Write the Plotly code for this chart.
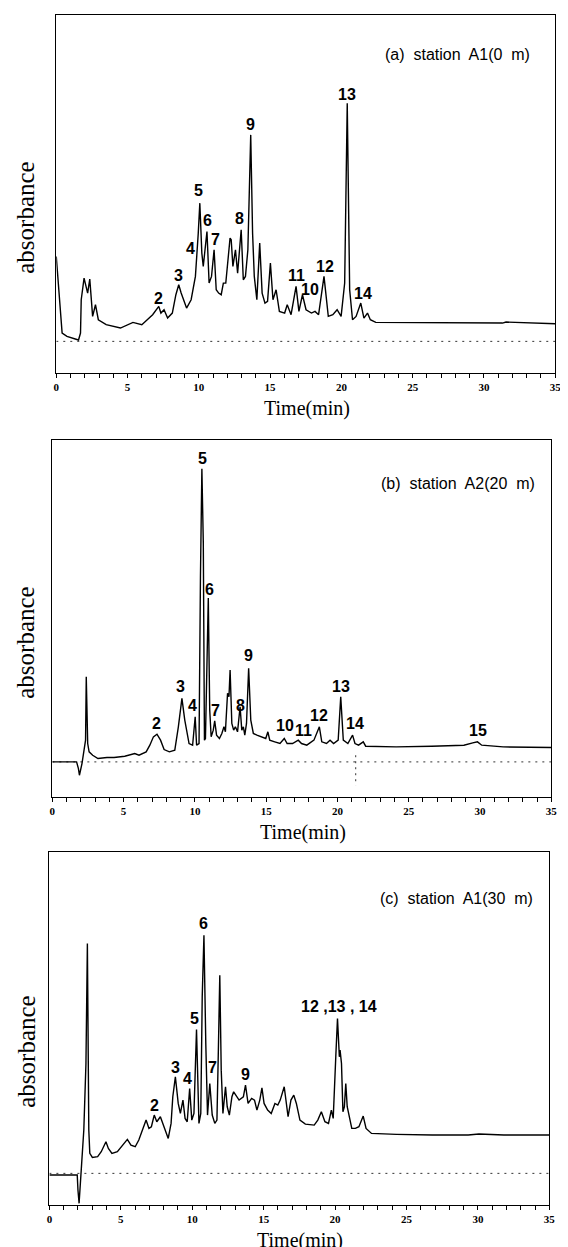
import plotly.graph_objects as go

# ---------------- data ----------------
# Panel (a) station A1 (0 m)
t_a = [0.00, 0.41, 0.75, 1.56, 1.70, 1.75, 1.95, 2.20, 2.35, 2.55, 2.75, 2.95, 3.50, 4.50, 5.38, 6.00,
       6.76, 7.19, 7.34, 7.56, 7.81, 8.14, 8.39, 8.59, 8.76, 9.14, 9.46, 9.76, 9.96, 10.07, 10.21,
       10.31, 10.57, 10.72, 10.89, 11.07, 11.22, 11.39, 11.57, 11.72, 11.89, 12.02, 12.19, 12.27,
       12.39, 12.57, 12.72, 12.97, 13.12, 13.27, 13.44, 13.64, 13.77, 13.89, 14.07, 14.27, 14.44,
       14.64, 14.82, 15.02, 15.20, 15.42, 15.65, 16.02, 16.20, 16.47, 16.82, 17.02, 17.27, 17.52,
       17.90, 18.15, 18.40, 18.78, 19.08, 19.40, 19.70, 19.98, 20.23, 20.41, 20.58, 20.78, 21.03,
       21.36, 21.58, 21.83, 22.03, 22.41, 23.79, 26.29, 31.30, 31.55, 35.00]
v_a = [35.0, 12.0, 11.0, 9.9, 12.0, 22.0, 28.5, 24.0, 28.2, 17.0, 20.5, 16.0, 14.5, 13.5, 15.2, 14.5,
       17.5, 20.0, 18.0, 19.0, 16.5, 18.0, 23.5, 26.5, 24.0, 19.5, 22.0, 29.0, 42.0, 51.0, 36.0,
       32.0, 42.5, 27.0, 29.0, 37.0, 25.0, 24.0, 23.5, 27.0, 27.0, 32.0, 40.5, 40.0,
       32.0, 37.0, 30.0, 43.0, 28.0, 29.0, 37.0, 71.5, 42.0, 29.0, 22.0, 39.0, 24.0,
       21.0, 21.5, 33.0, 22.0, 25.0, 18.5, 18.0, 20.5, 17.5, 26.0, 18.5, 23.5, 19.0,
       18.0, 18.5, 17.5, 29.0, 17.0, 17.5, 19.0, 17.0, 27.0, 81.0, 25.0, 16.0, 17.0,
       21.0, 16.5, 18.0, 16.0, 15.2, 15.2, 15.0, 15.0, 15.3, 14.8]

# Panel (b) station A2 (20 m)
t_b = [0.00, 1.70, 1.83, 1.90, 2.08, 2.23, 2.33, 2.38, 2.48, 2.58, 2.83, 3.20, 3.83, 4.33, 5.08, 5.78,
       6.08, 6.58, 6.84, 7.09, 7.34, 7.59, 7.84, 8.21, 8.59, 8.84, 9.09, 9.29, 9.59, 9.84, 10.02,
       10.12, 10.29, 10.39, 10.49, 10.59, 10.67, 10.74, 10.84, 10.94, 11.04, 11.14, 11.29, 11.39,
       11.52, 11.72, 11.89, 12.04, 12.14, 12.29, 12.39, 12.47, 12.59, 12.72, 12.84, 12.99, 13.17,
       13.29, 13.40, 13.50, 13.62, 13.77, 13.92, 14.10, 14.35, 14.60, 14.97, 15.12, 15.25, 15.60,
       15.97, 16.27, 16.47, 16.85, 17.10, 17.25, 17.48, 17.85, 18.35, 18.73, 18.90, 19.23, 19.48,
       19.73, 20.05, 20.23, 20.41, 20.73, 21.06, 21.23, 21.48, 21.81, 21.98, 24.11, 26.61, 28.87,
       29.49, 29.82, 30.12, 31.62, 35.00]
v_b = [10.5, 10.5, 8.5, 6.5, 10.0, 14.0, 17.0, 36.0, 16.0, 13.5, 12.5, 11.5, 11.8, 11.8, 12.2, 13.0,
       12.5, 13.5, 15.5, 18.0, 18.8, 17.0, 14.2, 13.5, 14.0, 21.0, 29.5, 23.0, 16.0, 15.5, 24.0,
       15.5, 16.0, 66.0, 98.2, 76.0, 17.0, 17.5, 46.0, 59.5, 26.0, 18.0, 20.0, 22.8,
       18.5, 17.5, 19.0, 21.0, 19.5, 31.0, 30.0, 38.0, 22.0, 20.0, 21.0, 19.5, 27.0,
       20.0, 21.0, 18.5, 22.0, 38.5, 23.0, 19.0, 18.5, 18.0, 17.5, 19.5, 17.0, 16.5,
       16.0, 17.5, 16.0, 16.0, 16.5, 17.0, 16.0, 15.5, 17.0, 21.0, 16.5, 16.0, 17.0,
       16.0, 17.0, 30.0, 17.0, 16.0, 18.5, 16.0, 15.5, 16.5, 15.2, 15.0, 15.2, 15.5,
       16.2, 16.5, 15.5, 15.0, 14.8]

# Panel (c) station A1 (30 m)
t_c = [0.00, 1.95, 2.00, 2.08, 2.26, 2.41, 2.56, 2.66, 2.76, 2.83, 3.01, 3.38, 3.63, 3.96, 4.13, 4.38,
       4.76, 5.14, 5.46, 5.71, 6.01, 6.26, 6.51, 6.77, 6.97, 7.14, 7.34, 7.52, 7.77, 8.02, 8.32,
       8.52, 8.64, 8.82, 9.02, 9.17, 9.35, 9.50, 9.65, 9.82, 9.97, 10.12, 10.30, 10.47, 10.60,
       10.70, 10.82, 10.95, 11.07, 11.23, 11.40, 11.58, 11.73, 11.83, 11.93, 12.03, 12.15, 12.33,
       12.45, 12.60, 12.78, 12.90, 13.28, 13.58, 13.73, 13.91, 14.16, 14.36, 14.53, 14.73, 14.88,
       15.03, 15.28, 15.53, 15.79, 15.99, 16.16, 16.44, 16.59, 16.71, 16.91, 17.11, 17.29, 17.54,
       17.92, 18.54, 18.79, 19.04, 19.29, 19.54, 19.74, 19.87, 20.05, 20.17, 20.30, 20.35, 20.45,
       20.55, 20.65, 20.75, 20.85, 21.00, 21.17, 21.42, 21.67, 21.97, 22.17, 22.55, 24.30, 26.81,
       29.32, 30.07, 31.82, 35.00]
v_c = [9.0, 9.0, 4.5, 0.5, 12.5, 22.5, 42.5, 78.5, 22.5, 15.5, 14.3, 14.5, 16.0, 19.0, 17.0, 15.5,
       16.0, 18.0, 19.7, 18.0, 17.5, 19.5, 22.5, 25.5, 23.0, 23.5, 27.0, 25.0, 26.5, 23.5, 20.0,
       24.5, 32.5, 38.5, 30.5, 27.5, 31.5, 26.0, 25.0, 35.0, 25.5, 27.5, 52.7, 24.5, 27.5,
       62.5, 81.0, 48.5, 27.0, 36.5, 27.0, 24.5, 25.5, 46.5, 69.0, 40.5, 27.5, 35.5,
       29.5, 27.0, 32.5, 34.0, 31.5, 32.5, 36.0, 30.5, 32.0, 31.5, 28.5, 31.5, 35.2,
       30.5, 28.5, 27.5, 30.5, 30.0, 31.5, 35.5, 30.5, 26.5, 31.5, 33.0, 30.5, 25.5,
       24.3, 24.0, 25.5, 28.0, 25.0, 24.5, 28.5, 26.0, 44.5, 56.0, 44.5, 46.5, 42.5,
       28.0, 29.5, 36.5, 29.5, 26.5, 23.0, 23.0, 23.5, 26.7, 23.0, 21.5, 21.2, 21.0,
       21.0, 21.3, 21.0, 21.0]

# dotted reference baselines
base_a = 9.5
base_b = 10.5
base_c = 9.5

# small dotted vertical mark under panel (b) trace
mark_b_t = [21.28, 21.28]
mark_b_v = [12.5, 3.5]

# peak labels: (text, time, height)
lab_a = [("2", 7.19, 22.5), ("3", 8.59, 29.2), ("4", 9.39, 37.5), ("5", 9.96, 54.8),
         ("6", 10.64, 45.8), ("7", 11.14, 40.2), ("8", 12.84, 46.5), ("9", 13.64, 74.5),
         ("11", 16.82, 29.2), ("10", 17.78, 25.2), ("12", 18.85, 32.0), ("13", 20.41, 83.5),
         ("14", 21.53, 24.0)]
lab_b = [("2", 7.29, 22.0), ("3", 8.96, 33.2), ("4", 9.84, 27.5), ("5", 10.52, 101.2),
         ("6", 11.04, 62.2), ("7", 11.42, 26.0), ("8", 13.17, 27.5), ("9", 13.77, 42.2),
         ("10", 16.30, 21.5), ("11", 17.60, 19.8), ("12", 18.73, 24.5), ("13", 20.23, 33.2),
         ("14", 21.23, 22.0), ("15", 29.87, 19.8)]
lab_c = [("2", 7.39, 30.0), ("3", 8.82, 41.3), ("4", 9.65, 38.0), ("5", 10.17, 56.0),
         ("6", 10.82, 84.5), ("7", 11.40, 41.3), ("9", 13.73, 39.2), ("12 ,13 , 14", 20.30, 59.5)]

titles = ["(a)  station  A1(0  m)", "(b)  station  A2(20  m)", "(c)  station  A1(30  m)"]
tick_vals = list(range(0, 36))
tick_text = ["<b>%d</b>" % v if v % 5 == 0 else "" for v in tick_vals]

# ---------------- layout geometry (page pixels) ----------------
W, H = 568, 1247
OFF = 8  # default page body margin that shifts the figure
panels = [
    dict(t=t_a, v=v_a, base=base_a, labs=lab_a, x0=54, x1=561, y0=15, y1=373, ymax=107.5,
         tx=33.4, ty=95.5, absy=218),
    dict(t=t_b, v=v_b, base=base_b, labs=lab_b, x0=50, x1=557, y0=440, y1=797, ymax=106.8,
         tx=34.0, ty=93.9, absy=643),
    dict(t=t_c, v=v_c, base=base_c, labs=lab_c, x0=47, x1=555, y0=852, y1=1205, ymax=106.0,
         tx=34.0, ty=92.0, absy=1052),
]


def px(x):
    return (x - OFF) / W


def py(y):
    return 1 - (y - OFF) / H


fig = go.Figure()
layout = dict(width=W, height=H, margin=dict(l=0, r=0, t=0, b=0),
              paper_bgcolor="white", plot_bgcolor="white", showlegend=False)
annotations = []

for i, p in enumerate(panels):
    n = "" if i == 0 else str(i + 1)
    xa, ya = "x" + n, "y" + n
    fig.add_trace(go.Scatter(x=[0, 35], y=[p["base"], p["base"]], mode="lines",
                             line=dict(color="#333", width=1, dash="2px,5px"),
                             xaxis=xa, yaxis=ya, hoverinfo="skip"))
    if i == 1:
        fig.add_trace(go.Scatter(x=mark_b_t, y=mark_b_v, mode="lines",
                                 line=dict(color="#333", width=1, dash="2px,4px"),
                                 xaxis=xa, yaxis=ya, hoverinfo="skip"))
    fig.add_trace(go.Scatter(x=p["t"], y=p["v"], mode="lines",
                             line=dict(color="black", width=1.4),
                             xaxis=xa, yaxis=ya))
    layout["xaxis" + n] = dict(
        domain=[px(p["x0"]), px(p["x1"])], range=[0, 35], anchor=ya,
        showline=True, mirror=True, linecolor="black", linewidth=1.4,
        ticks="outside", ticklen=4, tickwidth=1.2, tickcolor="black",
        tickmode="array", tickvals=tick_vals, ticktext=tick_text,
        tickfont=dict(family="Liberation Serif", size=11, color="black"),
        showgrid=False, zeroline=False, fixedrange=True)
    layout["yaxis" + n] = dict(
        domain=[py(p["y1"]), py(p["y0"])], range=[0, p["ymax"]], anchor=xa,
        showline=True, mirror=True, linecolor="black", linewidth=1.4,
        ticks="", showticklabels=False, showgrid=False, zeroline=False, fixedrange=True)
    for txt, tt, vv in p["labs"]:
        annotations.append(dict(x=tt, y=vv, xref=xa, yref=ya, text="<b>%s</b>" % txt,
                                showarrow=False, xanchor="center", yanchor="middle",
                                font=dict(family="Liberation Sans", size=16, color="black")))
    annotations.append(dict(x=p["tx"], y=p["ty"], xref=xa, yref=ya, text=titles[i],
                            showarrow=False, xanchor="right", yanchor="middle",
                            font=dict(family="Liberation Sans", size=16, color="black")))
    annotations.append(dict(x=px((p["x0"] + p["x1"]) / 2 + 1), y=py(p["y1"] + 35),
                            xref="paper", yref="paper", text="Time(min)", showarrow=False,
                            xanchor="center", yanchor="middle",
                            font=dict(family="Liberation Serif", size=20, color="black")))
    annotations.append(dict(x=px(23), y=py(p["absy"]), xref="paper", yref="paper",
                            text="absorbance", showarrow=False, textangle=-90,
                            xanchor="center", yanchor="middle",
                            font=dict(family="Liberation Serif", size=25, color="black")))

layout["annotations"] = annotations
fig.update_layout(**layout)
fig.write_html("out.html")
